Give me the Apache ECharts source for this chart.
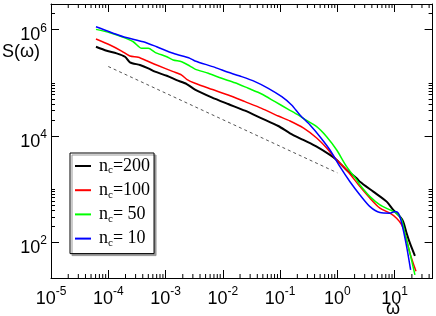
<!DOCTYPE html>
<html><head><meta charset="utf-8">
<script src="https://cdn.jsdelivr.net/npm/echarts@6/dist/echarts.min.js"></script>
<style>html,body{margin:0;padding:0;background:#fff}#c{width:436px;height:316px}</style>
</head><body><div id="c"></div>
<script>
// axis ranges
const X_MIN = 1e-5, X_MAX = 46;
const Y_MIN = 21, Y_MAX = 3e6;

// series names
const names = ['n_c=200', 'n_c=100', 'n_c= 50', 'n_c= 10'];
const colors = ['#000000', '#ff0000', '#00ff00', '#0000ff'];

// [omega, S(omega)]
const nc200 = [[6.1e-5,4.71e5],[9.4e-5,3.96e5],[1.40e-4,3.54e5],[1.96e-4,3.05e5],[2.39e-4,2.40e5],[3.58e-4,2.13e5],[5.0e-4,1.85e5],[6.55e-4,1.60e5],[1.05e-3,1.34e5],[1.56e-3,1.11e5],[2.34e-3,9.37e4],[3.27e-3,7.38e4],[6.39e-3,5.27e4],[1.24e-2,3.94e4],[2.44e-2,2.95e4],[4.76e-2,2.12e4],[9.29e-2,1.52e4],[0.149,1.11e4],[0.254,8.3e3],[0.435,6.21e3],[0.743,4.34e3],[0.973,3.49e3],[1.45,2.26e3],[2.17,1.58e3],[2.48,1.36e3],[4.24,885],[7.26,574],[9.46,401],[12.4,300],[14.1,242],[16.2,146],[18.5,94.9],[22.6,54.8]];
const nc100 = [[6.1e-5,6.57e5],[1.07e-4,5.07e5],[1.71e-4,3.91e5],[2.39e-4,3.15e5],[3.34e-4,2.98e5],[4.69e-4,2.57e5],[7.0e-4,2.13e5],[1.36e-3,1.60e5],[1.91e-3,1.38e5],[2.34e-3,1.15e5],[3.27e-3,9.66e4],[6.39e-3,7.45e4],[1.24e-2,5.82e4],[2.44e-2,4.36e4],[4.76e-2,3.27e4],[9.29e-2,2.34e4],[0.149,1.89e4],[0.254,1.40e4],[0.435,9.06e3],[0.650,5.87e3],[0.973,3.49e3],[1.45,2.26e3],[2.48,1.1e3],[3.71,666],[5.54,432],[8.28,348],[10.8,280],[13.3,210],[15.1,146],[18.5,61.5],[23.6,28]];
const nc50 = [[6.1e-5,1.0e6],[1.07e-4,8.63e5],[1.83e-4,7.07e5],[2.73e-4,5.85e5],[3.83e-4,4.39e5],[5.0e-4,4.39e5],[6.55e-4,3.70e5],[1.05e-3,3.05e5],[1.36e-3,2.65e5],[1.91e-3,2.46e5],[2.67e-3,2.04e5],[3.27e-3,1.79e5],[5.57e-3,1.49e5],[9.55e-3,1.20e5],[1.63e-2,9.9e4],[2.78e-2,7.78e4],[4.76e-2,6.08e4],[8.15e-2,4.36e4],[0.139,3.13e4],[0.207,2.45e4],[0.254,2.12e4],[0.435,1.48e4],[0.650,9.58e3],[0.973,5.38e3],[1.45,2.61e3],[2.17,1.47e3],[2.48,1.18e3],[3.71,713],[5.54,498],[8.28,401],[10.8,348],[13.3,260],[15.1,146],[18.5,61.5],[22.6,24.1]];
const nc10 = [[6.1e-5,1.12e6],[1.83e-4,7.26e5],[4.08e-4,5.85e5],[7.0e-4,4.71e5],[1.36e-3,3.54e5],[2.67e-3,2.85e5],[3.27e-3,2.54e5],[7.29e-3,1.93e5],[1.24e-2,1.56e5],[2.13e-2,1.29e5],[3.64e-2,1.04e5],[6.22e-2,7.78e4],[0.107,5.41e4],[0.159,3.78e4],[0.222,2.45e4],[0.333,1.59e4],[0.497,9.58e3],[0.743,5.38e3],[1.11,2.61e3],[1.66,1.36e3],[2.48,768],[3.71,463],[5.54,357],[8.28,348],[10.1,373],[11.6,348],[13.3,225],[16.2,82],[19.0,29.9]];
// dashed guide line, slope -1/2
const guide = [[1e-4,2.0e5],[1.0,2.0e3]];

// tick values: x has a major tick every decade, y every two decades
const minorX = [];
for (let k = -5; k <= 1; k++) for (let m = 2; m <= 9; m++) { const v = m*Math.pow(10,k); if (v > X_MIN && v < X_MAX) minorX.push(v); }
const majorY = [1e2, 1e4, 1e6];
const minorY = [];
for (let k = 0; k <= 6; k += 2) for (let m = 2; m <= 10; m++) { const v = m*Math.pow(10,k); if (v > Y_MIN && v < Y_MAX) minorY.push(v); }

function xLabel(v) {
  const e = Math.log10(v), r = Math.round(e);
  if (Math.abs(e - r) > 1e-6) return '';
  return '{b|10}{s|' + r + '}';
}
function yLabel(v) {
  const e = Math.log10(v), r = Math.round(e);
  if (Math.abs(e - r) > 1e-6 || r % 2 !== 0) return '';
  return '{b|10}{s|' + r + '}';
}
const labelRich = {
  b: {fontSize: 18, fontFamily: 'Liberation Sans', color: '#000', lineHeight: 26},
  s: {fontSize: 12, fontFamily: 'Liberation Sans', color: '#000', lineHeight: 12, verticalAlign: 'top'}
};
const axisLineStyle = {color: '#000', width: 1};
const tickStyle = {inside: true, length: 8, lineStyle: {color: '#000', width: 1}};

function xMinor(params, api) {
  const v = api.value(0);
  const b = api.coord([v, Y_MIN]), t = api.coord([v, Y_MAX]);
  return {type: 'group', silent: true, children: [
    {type: 'line', shape: {x1: b[0], y1: b[1], x2: b[0], y2: b[1]-4}, style: {stroke: '#000', lineWidth: 1}},
    {type: 'line', shape: {x1: t[0], y1: t[1], x2: t[0], y2: t[1]+4}, style: {stroke: '#000', lineWidth: 1}}
  ]};
}
function yTick(params, api) {
  const v = api.value(1), len = api.value(2);
  const l = api.coord([X_MIN, v]), r = api.coord([X_MAX, v]);
  const y = Math.round(l[1]) + 0.5;
  return {type: 'group', silent: true, children: [
    {type: 'line', shape: {x1: l[0], y1: y, x2: l[0]+len, y2: y}, style: {stroke: '#000', lineWidth: 1}},
    {type: 'line', shape: {x1: r[0], y1: y, x2: r[0]-len, y2: y}, style: {stroke: '#000', lineWidth: 1}}
  ]};
}

const dataSets = [nc200, nc100, nc50, nc10];
const lineSeries = dataSets.map((d, i) => ({
  name: names[i], type: 'line', data: d, showSymbol: false, symbol: 'none', smooth: 0.25,
  xAxisIndex: 0, yAxisIndex: 0,
  lineStyle: {color: colors[i], width: i === 0 ? 2 : 1.5}, itemStyle: {color: colors[i]},
  z: 3 + i
}));

const chart = echarts.init(document.getElementById('c'), null, {renderer: 'canvas'});
chart.setOption({
  animation: false,
  backgroundColor: '#fff',
  grid: {left: 51, right: 3.4, top: 4, bottom: 38, containLabel: false},
  xAxis: [
    {type: 'log', min: X_MIN, max: X_MAX, position: 'bottom', axisLine: {onZero: false, lineStyle: axisLineStyle},
     axisTick: tickStyle, splitLine: {show: false},
     axisLabel: {formatter: xLabel, rich: labelRich, margin: 8}},
    {type: 'log', min: X_MIN, max: X_MAX, position: 'top', axisLine: {onZero: false, lineStyle: axisLineStyle},
     axisTick: tickStyle, splitLine: {show: false}, axisLabel: {show: false}}
  ],
  yAxis: [
    {type: 'log', min: Y_MIN, max: Y_MAX, position: 'left', axisLine: {onZero: false, lineStyle: axisLineStyle},
     axisTick: {show: false}, splitLine: {show: false},
     axisLabel: {formatter: yLabel, rich: labelRich, margin: 4, padding: [12, 0, 0, 0]}},
    {type: 'log', min: Y_MIN, max: Y_MAX, position: 'right', axisLine: {onZero: false, lineStyle: axisLineStyle},
     axisTick: {show: false}, splitLine: {show: false}, axisLabel: {show: false}}
  ],
  legend: {
    data: names, orient: 'vertical', left: 70, top: 153, icon: 'rect', itemWidth: 16, itemHeight: 2, itemGap: 5.2,
    padding: [4, 4, 5, 5], borderColor: '#000', borderWidth: 1, backgroundColor: '#fff',
    shadowColor: '#999', shadowOffsetX: 2, shadowOffsetY: 2, shadowBlur: 0,
    selectedMode: false,
    formatter: function (name) { const p = name.split('='); return '{n|n}{c|c}{t|=' + p[1] + '}'; },
    textStyle: {rich: {
      n: {fontSize: 18, fontFamily: 'Liberation Serif', color: '#000', lineHeight: 20, padding: [0, 0, 0, 3]},
      c: {fontSize: 11, fontFamily: 'Liberation Serif', color: '#000', lineHeight: 4, verticalAlign: 'bottom'},
      t: {fontSize: 18, fontFamily: 'Liberation Serif', color: '#000', lineHeight: 20, whiteSpace: 'pre'}
    }}
  },
  graphic: [
    {type: 'text', left: 2, top: 43, style: {text: 'S(ω)', font: '18px "Liberation Sans"', fill: '#000'}},
    {type: 'text', x: 393, y: 309, style: {text: 'ω', font: '18px "Liberation Sans"', fill: '#000', align: 'center', verticalAlign: 'middle'}}
  ],
  series: [
    {type: 'custom', name: 'xminor', renderItem: xMinor, data: minorX.map(v => [v, Y_MIN]), silent: true, z: 10},
    {type: 'custom', name: 'ymajor', renderItem: yTick, data: majorY.map(v => [X_MIN, v, 8]), silent: true, z: 10},
    {type: 'custom', name: 'yminor', renderItem: yTick, data: minorY.map(v => [X_MIN, v, 4]), silent: true, z: 10},
    {name: 'guide', type: 'line', data: guide, showSymbol: false, symbol: 'none',
     lineStyle: {color: '#555', width: 1, type: [3, 3]}, z: 2}
  ].concat(lineSeries)
});
</script></body></html>
